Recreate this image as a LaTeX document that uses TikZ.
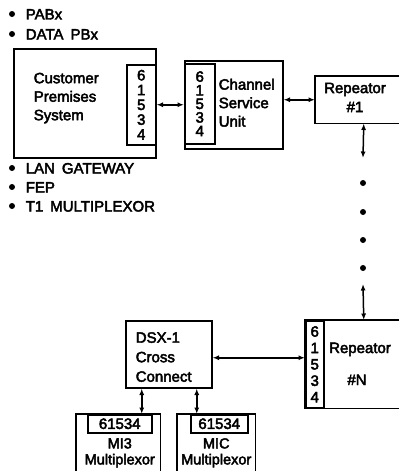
\documentclass[tikz,border=0pt]{standalone}
\usepackage{fontspec}
\setmainfont{Liberation Sans}[UprightFeatures={FakeBold=3}]
\usepackage{tikz}
\usetikzlibrary{arrows.meta,positioning}

\newcommand{\bodyfont}{\fontsize{15}{18.5}\selectfont}

\begin{document}
\begin{tikzpicture}[x=1pt,y=-1pt,line width=1.5pt,
  box/.style={draw,rectangle,inner sep=0pt,anchor=north west},
  openbox/.style={rectangle,inner sep=0pt,anchor=north west},
  port/.style={draw,rectangle,inner sep=0pt,anchor=north west,align=center},
  lbl/.style={inner sep=0pt,font=\bodyfont,align=left},
  item/.style={inner sep=0pt,font=\bodyfont,anchor=base west},
  link/.style={{Latex[length=6.5pt,width=5pt]}-{Latex[length=6.5pt,width=5pt]}},
  dot/.style={circle,fill,inner sep=0pt,minimum size=6pt}]
  \useasboundingbox (0,0) rectangle (399,471); % 画像の大きさに合わせた枠
  \coordinate (edge) at (399,0); % 右端

  % 箇条書き
  \node[dot] (b1) at (12,14) {};
  \node[item] (pabx) at (25,19.5) {PABx};
  \node[dot] (b2) at (12,34) {};
  \node[item] (datapbx) at (25,39.5) {DATA\hspace{7pt}PBx};
  \node[dot] (b3) at (12,168) {};
  \node[item] (lan) at (25,173.5) {LAN\hspace{7pt}GATEWAY};
  \node[dot] (b4) at (12,187) {};
  \node[item] (fep) at (25,192.5) {FEP};
  \node[dot] (b5) at (12,206) {};
  \node[item] (t1mux) at (25,211.5) {T1\hspace{7pt}MULTIPLEXOR};

  % 構内システムとCSU
  \node[box,minimum width=142pt,minimum height=109pt] (cps) at (13,48) {};
  \node[port,minimum width=29pt,minimum height=80pt,font=\fontsize{15}{14.8}\selectfont]
    (cpsport) at (126,64) {6\\1\\5\\3\\4};
  \node[lbl,anchor=north west] (cpstext) at (33,72) {Customer\\Premises\\System};
  \node[box,minimum width=98pt,minimum height=88pt] (csu) at (184,60) {};
  \node[port,minimum width=30pt,minimum height=80pt,font=\fontsize{15}{13.6}\selectfont]
    (csuport) at (184,63) {6\\1\\5\\3\\4};
  \node[lbl,anchor=north west] (csutext) at (218,78) {Channel\\Service\\Unit};
  \draw[link] (cpsport.east) -- (cpsport.east -| csu.west); % CPS--CSU

  % 中継器 #1 （右端で切れている）
  \node[openbox,minimum width=96pt,minimum height=46pt] (rep1) at (315,76) {};
  \draw (rep1.north west -| edge) -- (rep1.north west) -- (rep1.south west) -- (rep1.south west -| edge);
  \node[lbl,align=center,anchor=north,font=\fontsize{15}{19}\selectfont] (rep1text) at (355,82) {Repeator\\\#1};
  \draw[link] (rep1.west -| csu.east) -- (rep1.west); % CSU--中継器

  % 中継器の列（点で省略）
  \coordinate (down1) at (363,158);
  \draw[link] (rep1.south) -- (down1);
  \node[dot] (d1) at (363,183) {};
  \node[dot] (d2) at (363,212) {};
  \node[dot] (d3) at (363,240) {};
  \node[dot] (d4) at (363,268) {};
  \coordinate (up1) at (363,284);

  % 中継器 #N
  \node[openbox,minimum width=116pt,minimum height=87pt] (repN) at (305,320) {};
  \draw (repN.north west -| edge) -- (repN.north west) -- (repN.south west) -- (repN.south west -| edge);
  \node[port,minimum width=18pt,minimum height=87pt,font=\fontsize{15}{16.4}\selectfont]
    (repNport) at (305,320) {6\\1\\5\\3\\4};
  \node[item,anchor=base] (repNa) at (360,353) {Repeator};
  \node[item,anchor=base] (repNb) at (357,385) {\#N};
  \draw[link] (up1) -- (repN.north);

  % DSX-1 と多重化装置
  \node[box,minimum width=86pt,minimum height=67pt] (dsx) at (125,320) {};
  \node[lbl,anchor=north west,font=\fontsize{15}{19.5}\selectfont] (dsxtext) at (135,331.5) {DSX-1\\Cross\\Connect};
  \draw[link] ([yshift=-3.5pt]dsx.east) -- ([yshift=-3.5pt]dsx.east -| repNport.west);

  \node[openbox,minimum width=83pt,minimum height=57pt] (mi3) at (76,414) {};
  \draw (mi3.south west) -- (mi3.north west) -- (mi3.north east) -- (mi3.south east);
  \node[port,minimum width=64pt,minimum height=18pt,font=\bodyfont] (mi3lab) at (87,414) {61534};
  \node[lbl,align=center,anchor=north,font=\fontsize{14.5}{16}\selectfont] (mi3text) at ([yshift=-4pt]mi3lab.south) {MI3\\Multiplexor};

  \node[openbox,minimum width=77pt,minimum height=57pt] (mic) at (177,414) {};
  \draw (mic.south west) -- (mic.north west) -- (mic.north east) -- (mic.south east);
  \node[port,minimum width=57pt,minimum height=18pt,font=\bodyfont] (miclab) at (190,414) {61534};
  \node[lbl,align=center,anchor=north,font=\fontsize{14.5}{16}\selectfont] (mictext) at ([yshift=-4pt]mic.north |- miclab.south) {MIC\\Multiplexor};

  \draw[link] ([xshift=-27pt]dsx.south) -- ([xshift=-27pt]dsx.south |- mi3.north);
  \draw[link] ([xshift=28pt]dsx.south) -- ([xshift=28pt]dsx.south |- mic.north);
\end{tikzpicture}
\end{document}
